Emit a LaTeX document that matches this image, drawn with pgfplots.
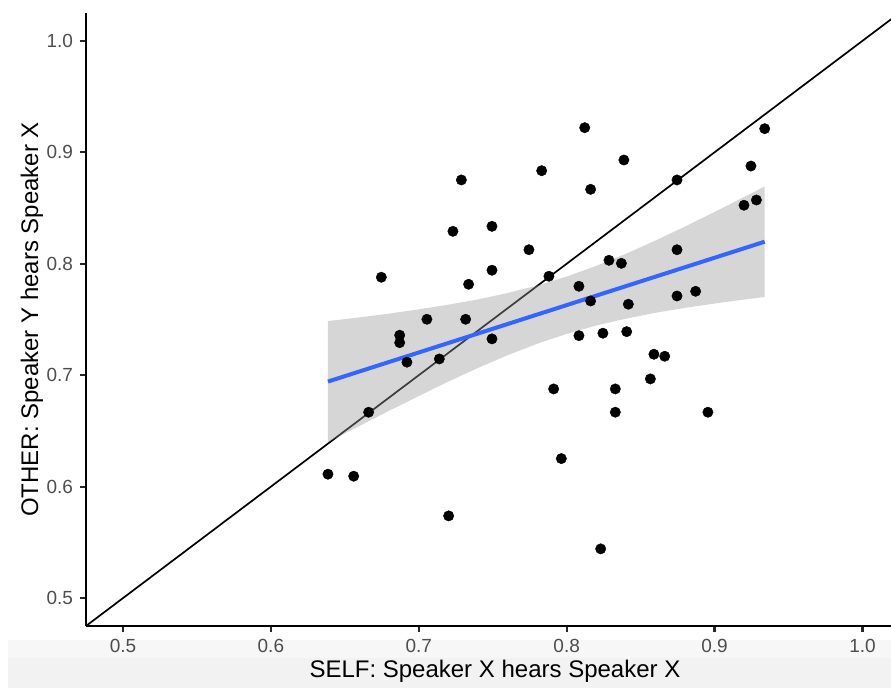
\documentclass[border=0pt]{standalone}
\usepackage{pgfplots}
\pgfplotsset{compat=1.18}
\usepackage{fontspec}
\setmainfont{Liberation Sans}
\definecolor{smoothblue}{HTML}{3366FF}
\definecolor{ticklab}{HTML}{4D4D4D}
\begin{document}
\begin{tikzpicture}
\path[use as bounding box] (-43pt,-31pt) rectangle (402.5pt,313pt);
\fill[black!3] (-39pt,-16pt) rectangle (402.5pt,-7pt);
\fill[black!5] (-39pt,-31pt) rectangle (402.5pt,-16pt);
\begin{axis}[
  scale only axis, width=402.5pt, height=306.5pt,
  xmin=0.475, xmax=1.0193, ymin=0.475, ymax=1.025,
  axis x line*=bottom, axis y line*=left,
  axis line style={-, line width=1.2pt, black},
  xtick={0.5,0.6,0.7,0.8,0.9,1.0},
  ytick={0.5,0.6,0.7,0.8,0.9,1.0},
  tick align=outside, major tick length=3pt,
  major tick style={line width=1.1pt, black!85},
  minor tick num=0,
  ticklabel style={font=\fontsize{9.5}{11}\selectfont, text=ticklab,
    /pgf/number format/fixed, /pgf/number format/fixed zerofill,
    /pgf/number format/precision=1, /pgf/number format/assume math mode=true},
  xlabel={SELF: Speaker X hears Speaker X},
  ylabel={OTHER: Speaker Y hears Speaker X},
  label style={font=\fontsize{12}{14}\selectfont},
  xlabel style={at={(axis description cs:0.508,-0.084)}, anchor=base},
  ylabel style={at={(axis description cs:-0.0596,0.5)}, anchor=base},
  clip=true
]
\addplot[only marks, mark=*, mark size=2.6pt, mark options={fill=black, draw=black, line width=0.2pt}] table {
x y
0.6386 0.6112
0.6560 0.6094
0.6661 0.6668
0.6747 0.7879
0.6871 0.7359
0.6871 0.7292
0.6920 0.7117
0.7055 0.7502
0.7139 0.7146
0.7202 0.5738
0.7231 0.8291
0.7288 0.8752
0.7317 0.7502
0.7337 0.7816
0.7495 0.8336
0.7495 0.7942
0.7495 0.7326
0.7745 0.8126
0.7831 0.8835
0.7880 0.7888
0.7912 0.6877
0.7964 0.6252
0.8083 0.7798
0.8083 0.7355
0.8122 0.9221
0.8162 0.8668
0.8162 0.7666
0.8230 0.5442
0.8245 0.7377
0.8286 0.8031
0.8329 0.6877
0.8329 0.6668
0.8370 0.8004
0.8387 0.8931
0.8406 0.7391
0.8417 0.7637
0.8566 0.6967
0.8590 0.7188
0.8663 0.7170
0.8746 0.8752
0.8746 0.8126
0.8746 0.7711
0.8872 0.7753
0.8955 0.6668
0.9199 0.8525
0.9246 0.8877
0.9283 0.8572
0.9339 0.9212
};
\addplot[black, line width=0.85pt] coordinates {(0.475,0.475) (1.03,1.03)};
\addplot[draw=none, fill=black!40, fill opacity=0.4] coordinates {
(0.6386,0.7486) (0.66,0.7519) (0.68,0.7553) (0.70,0.7591) (0.72,0.7633)
(0.74,0.7680) (0.76,0.7737) (0.78,0.7804) (0.80,0.7885) (0.82,0.7981)
(0.84,0.8089) (0.86,0.8208) (0.88,0.8334) (0.90,0.8465) (0.92,0.8599)
(0.9339,0.8694)
(0.9339,0.7702) (0.92,0.7679) (0.90,0.7643) (0.88,0.7604) (0.86,0.7560)
(0.84,0.7507) (0.82,0.7446) (0.80,0.7371) (0.78,0.7282) (0.76,0.7179)
(0.74,0.7065) (0.72,0.6943) (0.70,0.6813) (0.68,0.6681) (0.66,0.6545)
(0.6386,0.6400)
} -- cycle;
\addplot[smoothblue, line width=2pt] coordinates {(0.6386,0.6943) (0.9339,0.8198)};
\end{axis}
\end{tikzpicture}
\end{document}
